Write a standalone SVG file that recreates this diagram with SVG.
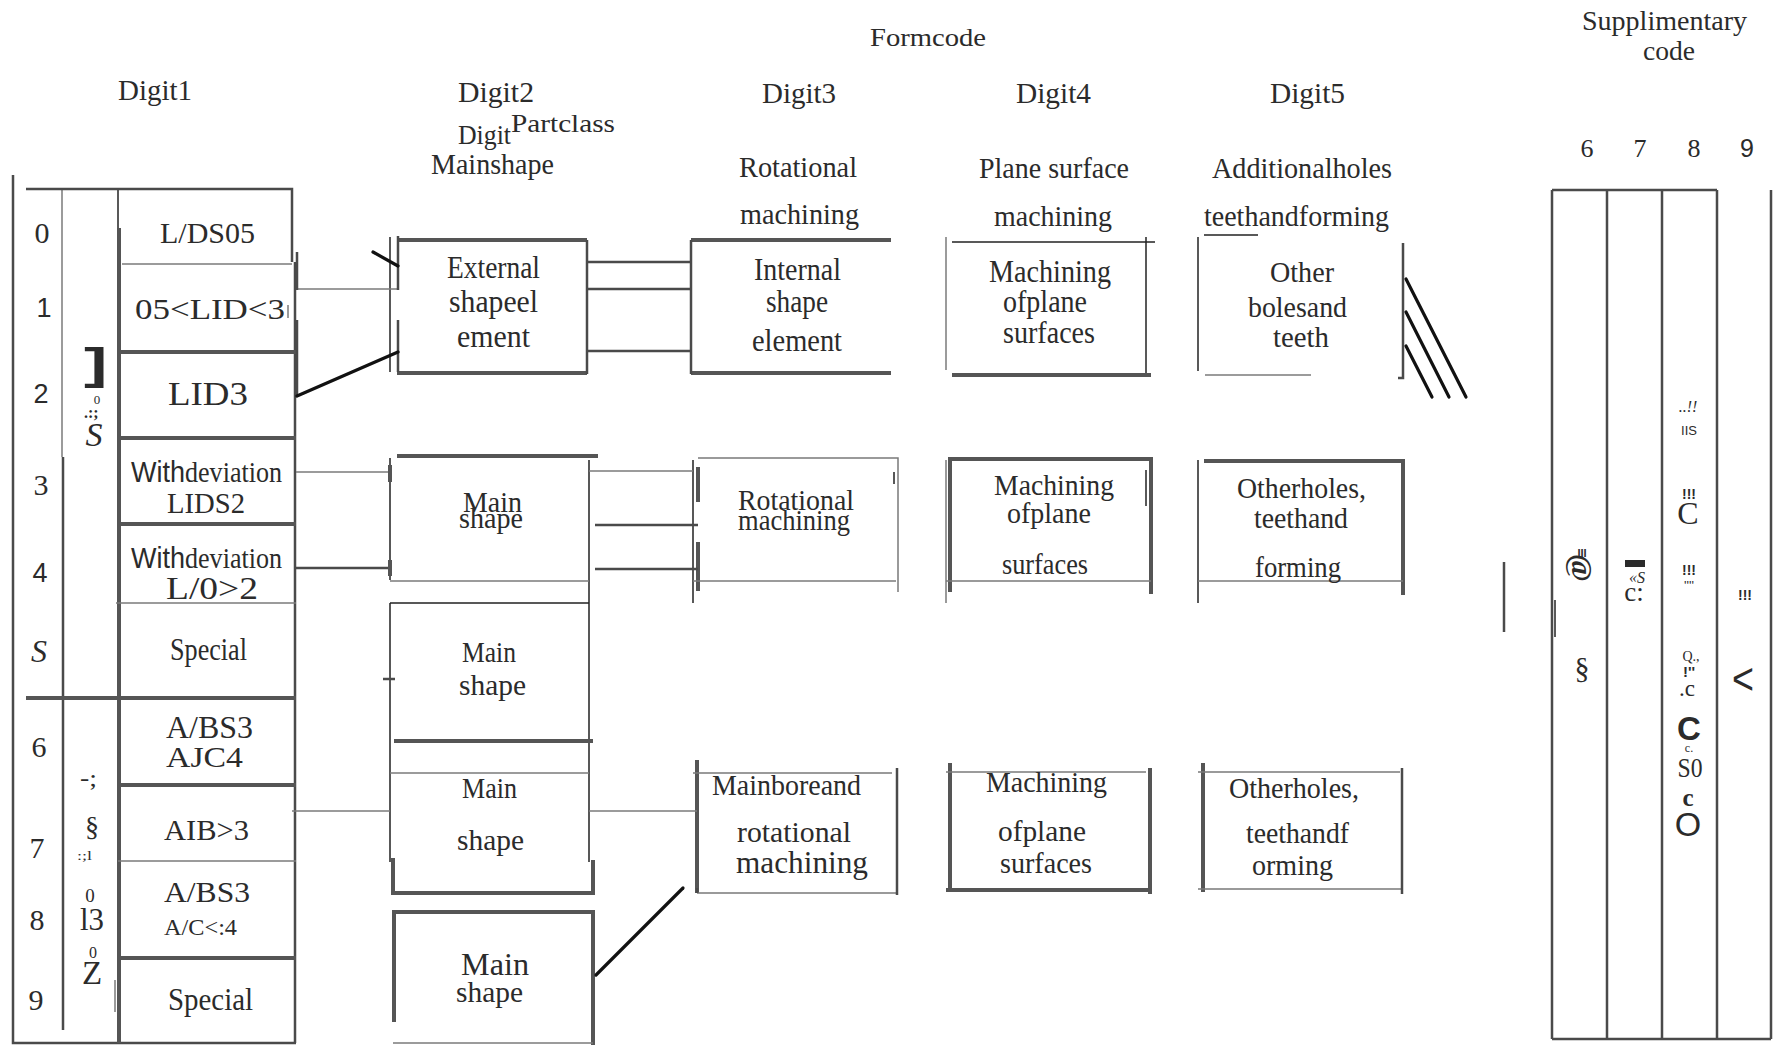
<svg xmlns="http://www.w3.org/2000/svg" width="1777" height="1045" viewBox="0 0 1777 1045">
<style>
text{font-family:"Liberation Serif","Times New Roman",serif;fill:#2b2b2b}
.sans{font-family:"Liberation Sans",Arial,sans-serif}
.c{text-anchor:middle}
.k{stroke:#222;stroke-width:1.5;fill:none}
.t{stroke:#7a7a7a;stroke-width:1.5;fill:none}
.g{stroke:#555;stroke-width:4;fill:none}
.m{stroke:#4a4a4a;stroke-width:2.5;fill:none}
.b{stroke:#111;stroke-width:3.2;fill:none;stroke-linecap:round}
</style>
<rect width="1777" height="1045" fill="#fff"/>

<!-- column headings -->
<g id="headings">
  <text x="870" y="46" font-size="26" textLength="116" lengthAdjust="spacingAndGlyphs">Formcode</text>
  <text x="1582" y="30" font-size="27" textLength="165" lengthAdjust="spacingAndGlyphs">Supplimentary</text>
  <text x="1643" y="60" font-size="27" textLength="52" lengthAdjust="spacingAndGlyphs">code</text>
  <text x="118" y="100" font-size="30" textLength="74" lengthAdjust="spacingAndGlyphs">Digit1</text>
  <text x="458" y="102" font-size="30" textLength="76" lengthAdjust="spacingAndGlyphs">Digit2</text>
  <text x="458" y="144" font-size="27" textLength="53" lengthAdjust="spacingAndGlyphs">Digit</text>
  <text x="511" y="132" font-size="26" textLength="104" lengthAdjust="spacingAndGlyphs">Partclass</text>
  <text x="431" y="174" font-size="29" textLength="123" lengthAdjust="spacingAndGlyphs">Mainshape</text>
  <text x="762" y="103" font-size="30" textLength="74" lengthAdjust="spacingAndGlyphs">Digit3</text>
  <text x="739" y="177" font-size="30" textLength="118" lengthAdjust="spacingAndGlyphs">Rotational</text>
  <text x="740" y="224" font-size="30" textLength="119" lengthAdjust="spacingAndGlyphs">machining</text>
  <text x="1016" y="103" font-size="30" textLength="75" lengthAdjust="spacingAndGlyphs">Digit4</text>
  <text x="1270" y="103" font-size="30" textLength="75" lengthAdjust="spacingAndGlyphs">Digit5</text>
  <text x="979" y="178" font-size="30" textLength="150" lengthAdjust="spacingAndGlyphs">Plane surface</text>
  <text x="994" y="226" font-size="30" textLength="118" lengthAdjust="spacingAndGlyphs">machining</text>
  <text x="1212" y="178" font-size="30" textLength="180" lengthAdjust="spacingAndGlyphs">Additionalholes</text>
  <text x="1204" y="226" font-size="30" textLength="185" lengthAdjust="spacingAndGlyphs">teethandforming</text>
  <path class="k" d="M1204,235H1258"/>
  <text class="c" x="1587" y="157" font-size="26">6</text>
  <text class="c" x="1640" y="157" font-size="26">7</text>
  <text class="c" x="1694" y="157" font-size="26">8</text>
  <text class="c sans" x="1747" y="157" font-size="25">9</text>
</g>

<!-- Digit 1 table -->
<g id="digit1-table">
  <path class="m" d="M13,175V1043H296"/>
  <path class="t" d="M62,189V457"/>
  <path class="m" stroke-width="3" d="M63,457V1030"/>
  <path class="k" d="M118,189V228"/>
  <path class="g" d="M119,228V1043"/>
  <path class="m" stroke-width="2" d="M26,189H292V262"/>
  <path class="m" stroke-width="3" d="M295,262V1043"/>
  <path class="t" d="M122,264H292"/>
  <path class="g" stroke-width="3.5" d="M120,352H296M120,438H296M120,524H296"/>
  <path class="t" d="M116,603H296"/>
  <path class="g" stroke-width="3.5" d="M26,698H296M120,785H296"/>
  <path class="t" d="M118,861H296"/>
  <path class="g" stroke-width="3.5" d="M120,958H296"/>
  <path class="t" stroke-width="3" d="M115,980V1012"/>
  <path class="t" stroke-width="2" d="M288,305V318"/>

  <text class="c" x="42" y="243" font-size="30">0</text>
  <text class="c sans" x="44" y="317" font-size="27">1</text>
  <text class="c sans" x="41" y="403" font-size="27">2</text>
  <text class="c" x="41" y="495" font-size="30">3</text>
  <text class="c sans" x="40" y="582" font-size="27">4</text>
  <text class="c" x="39" y="662" font-size="32" font-style="italic">S</text>
  <text class="c" x="39" y="757" font-size="30">6</text>
  <text class="c" x="37" y="858" font-size="30">7</text>
  <text class="c" x="37" y="930" font-size="30">8</text>
  <text class="c" x="36" y="1010" font-size="30">9</text>

  <!-- stray marks printed in the shape column -->
  <text class="sans" transform="translate(84,379) scale(1.6,1)" font-size="44" font-weight="bold" fill="#444">]</text>
  <text class="c" x="97" y="404" font-size="13">0</text>
  <text x="84" y="418" font-size="16" font-weight="bold">.:;</text>
  <text class="c" x="94" y="446" font-size="34" font-style="italic">S</text>
  <text x="80" y="786" font-size="24" textLength="17" lengthAdjust="spacingAndGlyphs">-;</text>
  <text class="c" x="92" y="836" font-size="28">§</text>
  <text x="77" y="860" font-size="13" textLength="15" lengthAdjust="spacingAndGlyphs">:;l</text>
  <text class="c" x="90" y="902" font-size="19">0</text>
  <text x="80" y="930" font-size="32" textLength="24" lengthAdjust="spacingAndGlyphs">l3</text>
  <text class="c" x="93" y="958" font-size="16">0</text>
  <text class="c" x="92" y="984" font-size="33">Z</text>

  <text x="160" y="243" font-size="30" textLength="95" lengthAdjust="spacingAndGlyphs">L/DS05</text>
  <text x="135" y="319" font-size="30" textLength="150" lengthAdjust="spacingAndGlyphs">05&lt;LID&lt;3</text>
  <text x="168" y="405" font-size="33" textLength="80" lengthAdjust="spacingAndGlyphs">LID3</text>
  <text y="482" font-size="29"><tspan class="sans" x="131" textLength="54" lengthAdjust="spacingAndGlyphs">With</tspan><tspan x="185" textLength="97" lengthAdjust="spacingAndGlyphs">deviation</tspan></text>
  <text x="167" y="513" font-size="30" textLength="78" lengthAdjust="spacingAndGlyphs">LIDS2</text>
  <text y="568" font-size="29"><tspan class="sans" x="131" textLength="54" lengthAdjust="spacingAndGlyphs">With</tspan><tspan x="185" textLength="97" lengthAdjust="spacingAndGlyphs">deviation</tspan></text>
  <text x="166" y="599" font-size="32" textLength="92" lengthAdjust="spacingAndGlyphs">L/0&gt;2</text>
  <text x="170" y="660" font-size="32" textLength="77" lengthAdjust="spacingAndGlyphs">Special</text>
  <text x="166" y="738" font-size="32" textLength="87" lengthAdjust="spacingAndGlyphs">A/BS3</text>
  <text x="166" y="767" font-size="30" textLength="77" lengthAdjust="spacingAndGlyphs">AJC4</text>
  <text x="164" y="840" font-size="30" textLength="85" lengthAdjust="spacingAndGlyphs">AIB&gt;3</text>
  <text x="164" y="902" font-size="30" textLength="86" lengthAdjust="spacingAndGlyphs">A/BS3</text>
  <text x="164" y="935" font-size="23" textLength="73" lengthAdjust="spacingAndGlyphs">A/C&lt;:4</text>
  <text x="168" y="1010" font-size="31" textLength="85" lengthAdjust="spacingAndGlyphs">Special</text>
</g>

<!-- Digit 2 boxes -->
<g id="d2-external">
  <path class="g" d="M397,240H587M397,373H587"/>
  <path class="k" d="M390,237V372"/>
  <path class="m" stroke-width="2" d="M587,240V374"/>
  <text x="447" y="278" font-size="32" textLength="93" lengthAdjust="spacingAndGlyphs">External</text>
  <text x="449" y="312" font-size="32" textLength="89" lengthAdjust="spacingAndGlyphs">shapeel</text>
  <text x="457" y="347" font-size="32" textLength="73" lengthAdjust="spacingAndGlyphs">ement</text>
</g>
<g id="d2-main-1">
  <path class="g" d="M397,456H598"/>
  <path class="k" d="M390,458V580M589,460V862"/>
  <path class="t" d="M390,581H589"/>
  <text x="463" y="512" font-size="29" textLength="59" lengthAdjust="spacingAndGlyphs">Main</text>
  <text x="459" y="528" font-size="29" textLength="64" lengthAdjust="spacingAndGlyphs">shape</text>
</g>
<g id="d2-main-2">
  <path class="k" d="M390,603H589M390,603V862"/>
  <path class="g" d="M394,741H593"/>
  <path class="m" stroke-width="4" d="M383,679H395"/>
  <text x="462" y="662" font-size="29" textLength="54" lengthAdjust="spacingAndGlyphs">Main</text>
  <text x="459" y="695" font-size="29" textLength="67" lengthAdjust="spacingAndGlyphs">shape</text>
</g>
<g id="d2-main-3">
  <path class="t" d="M390,773H589"/>
  <path class="g" d="M393,858V893H593V860"/>
  <text x="462" y="798" font-size="29" textLength="55" lengthAdjust="spacingAndGlyphs">Main</text>
  <text x="457" y="850" font-size="29" textLength="67" lengthAdjust="spacingAndGlyphs">shape</text>
</g>
<g id="d2-main-4">
  <path class="g" d="M394,1022V912H593V1045"/>
  <path class="t" d="M393,1043H593"/>
  <text x="461" y="975" font-size="32" textLength="68" lengthAdjust="spacingAndGlyphs">Main</text>
  <text x="456" y="1002" font-size="29" textLength="67" lengthAdjust="spacingAndGlyphs">shape</text>
</g>

<!-- Digit 3 boxes -->
<g id="d3-internal">
  <path class="g" d="M691,240H891M691,373H891"/>
  <path class="m" stroke-width="2" d="M691,240V374"/>
  <text x="754" y="280" font-size="32" textLength="87" lengthAdjust="spacingAndGlyphs">Internal</text>
  <text x="766" y="312" font-size="32" textLength="62" lengthAdjust="spacingAndGlyphs">shape</text>
  <text x="752" y="351" font-size="32" textLength="90" lengthAdjust="spacingAndGlyphs">element</text>
</g>
<g id="d3-rotational">
  <path class="t" stroke-width="2" d="M698,458H898V592"/>
  <path class="k" stroke-width="1.2" d="M693,460V603M894,472V484"/>
  <path class="g" d="M698,467V502M698,542V591"/>
  <path class="t" d="M693,581H896"/>
  <text x="738" y="510" font-size="30" textLength="116" lengthAdjust="spacingAndGlyphs">Rotational</text>
  <text x="738" y="530" font-size="30" textLength="112" lengthAdjust="spacingAndGlyphs">machining</text>
</g>
<g id="d3-mainbore">
  <path class="g" d="M697,760V893"/>
  <path class="t" d="M693,773H892M697,893H897"/>
  <path class="m" stroke-width="2" d="M897,768V895"/>
  <text x="712" y="795" font-size="30" textLength="149" lengthAdjust="spacingAndGlyphs">Mainboreand</text>
  <text x="737" y="842" font-size="30" textLength="114" lengthAdjust="spacingAndGlyphs">rotational</text>
  <text x="736" y="873" font-size="31" textLength="132" lengthAdjust="spacingAndGlyphs">machining</text>
</g>

<!-- Digit 4 boxes -->
<g id="d4-plane-1">
  <path class="t" d="M946,237V370"/>
  <path class="k" stroke-width="2" d="M952,242H1155"/>
  <path class="k" stroke="#555" d="M1146,237V373"/>
  <path class="g" d="M952,375H1151"/>
  <text x="989" y="282" font-size="32" textLength="122" lengthAdjust="spacingAndGlyphs">Machining</text>
  <text x="1003" y="312" font-size="32" textLength="84" lengthAdjust="spacingAndGlyphs">ofplane</text>
  <text x="1003" y="343" font-size="32" textLength="92" lengthAdjust="spacingAndGlyphs">surfaces</text>
</g>
<g id="d4-plane-2">
  <path class="g" d="M950,592V459H1151V594"/>
  <path class="t" d="M946,581H1151M946,460V603"/>
  <path class="k" d="M1146,470V506"/>
  <text x="994" y="495" font-size="30" textLength="120" lengthAdjust="spacingAndGlyphs">Machining</text>
  <text x="1007" y="523" font-size="30" textLength="84" lengthAdjust="spacingAndGlyphs">ofplane</text>
  <text x="1002" y="574" font-size="30" textLength="86" lengthAdjust="spacingAndGlyphs">surfaces</text>
</g>
<g id="d4-plane-3">
  <path class="g" d="M950,763V892M1150,768V894M946,890H1150"/>
  <path class="t" d="M946,772H1146"/>
  <text x="986" y="792" font-size="30" textLength="121" lengthAdjust="spacingAndGlyphs">Machining</text>
  <text x="998" y="841" font-size="30" textLength="88" lengthAdjust="spacingAndGlyphs">ofplane</text>
  <text x="1000" y="873" font-size="30" textLength="92" lengthAdjust="spacingAndGlyphs">surfaces</text>
</g>

<!-- Digit 5 boxes -->
<g id="d5-holes-1">
  <path class="k" d="M1198,237V371"/>
  <path class="t" d="M1205,375H1311"/>
  <path class="m" stroke-width="3.5" d="M1403,243V378H1398"/>
  <text x="1270" y="282" font-size="30" textLength="64" lengthAdjust="spacingAndGlyphs">Other</text>
  <text x="1248" y="317" font-size="30" textLength="99" lengthAdjust="spacingAndGlyphs">bolesand</text>
  <text x="1273" y="347" font-size="30" textLength="56" lengthAdjust="spacingAndGlyphs">teeth</text>
</g>
<g id="d5-holes-2">
  <path class="k" d="M1198,460V603"/>
  <path class="g" d="M1204,461H1403V595"/>
  <path class="t" d="M1198,581H1403"/>
  <text x="1237" y="498" font-size="30" textLength="129" lengthAdjust="spacingAndGlyphs">Otherholes,</text>
  <text x="1254" y="528" font-size="30" textLength="94" lengthAdjust="spacingAndGlyphs">teethand</text>
  <text x="1255" y="577" font-size="30" textLength="86" lengthAdjust="spacingAndGlyphs">forming</text>
</g>
<g id="d5-holes-3">
  <path class="g" d="M1203,763V892"/>
  <path class="t" d="M1198,772H1400M1198,889H1402"/>
  <path class="m" d="M1402,768V894"/>
  <text x="1229" y="798" font-size="30" textLength="130" lengthAdjust="spacingAndGlyphs">Otherholes,</text>
  <text x="1246" y="843" font-size="30" textLength="103" lengthAdjust="spacingAndGlyphs">teethandf</text>
  <text x="1252" y="875" font-size="30" textLength="81" lengthAdjust="spacingAndGlyphs">orming</text>
</g>

<!-- supplementary code columns -->
<g id="supplementary">
  <path class="m" stroke-width="3" d="M1552,190V1039M1607,190V1039M1662,190V1039M1717,190V1039M1771,190V1039M1552,190H1717M1552,1039H1771"/>
  <text class="c sans" x="1582" y="557" font-size="11" font-weight="bold">III</text>
  <text class="c" transform="translate(1582,568) rotate(90)" font-size="30" font-weight="bold" dy="10">@</text>
  <text class="c" x="1582" y="678" font-size="30">§</text>
  <rect x="1625" y="560" width="20" height="7" fill="#2b2b2b"/>
  <text class="c" x="1637" y="583" font-size="16" font-style="italic">«S</text>
  <text class="c" x="1634" y="601" font-size="27">c:</text>
  <text class="c" x="1688" y="412" font-size="16" font-style="italic">..!!</text>
  <text class="c sans" x="1689" y="435" font-size="13">IIS</text>
  <text class="c sans" x="1689" y="499" font-size="14" font-weight="bold">!!!</text>
  <text class="c" x="1688" y="524" font-size="32">C</text>
  <text class="c sans" x="1689" y="575" font-size="14" font-weight="bold">!!!</text>
  <text class="c sans" x="1689" y="590" font-size="13">''''</text>
  <text class="c" x="1691" y="661" font-size="14">Q.,</text>
  <text class="c sans" x="1689" y="677" font-size="15" font-weight="bold">!''</text>
  <text class="c" x="1687" y="696" font-size="23">.c</text>
  <text class="c sans" x="1689" y="740" font-size="33" font-weight="bold">C</text>
  <text class="c" x="1689" y="752" font-size="12">c.</text>
  <text class="c" x="1690" y="777" font-size="27" textLength="25" lengthAdjust="spacingAndGlyphs">S0</text>
  <text class="c" x="1688" y="806" font-size="25" font-weight="bold">c</text>
  <text class="c sans" x="1688" y="836" font-size="34">O</text>
  <text class="c sans" x="1745" y="600" font-size="14" font-weight="bold">!!!</text>
  <text class="c sans" x="1743" y="694" font-size="44" textLength="22" lengthAdjust="spacingAndGlyphs">&lt;</text>
</g>

<!-- connectors -->
<g id="connectors">
  <!-- digit 1 to digit 2 -->
  <path class="t" d="M296,289H398"/>
  <path class="m" stroke="#333" d="M297,252V290M297,320V395M398,236V290M398,320V372"/>
  <path class="b" d="M297,396L398,352M373,252L398,266"/>
  <path class="t" d="M296,472H390"/>
  <path class="g" d="M390,465V482"/>
  <path class="m" stroke-width="5" d="M296,568H392"/>
  <path class="g" d="M390,560V576"/>
  <path class="t" stroke="#555" d="M292,811H390"/>
  <!-- digit 2 to digit 3 -->
  <path class="m" stroke-width="4" d="M587,262H691M587,351H691"/>
  <path class="m" stroke-width="2" d="M587,289H691"/>
  <path class="t" stroke="#666" d="M589,471H693"/>
  <path class="m" stroke-width="5" d="M595,525H698"/>
  <path class="m" stroke-width="4" d="M595,569H698"/>
  <path class="t" stroke="#555" d="M589,811H697"/>
  <path class="b" stroke-width="3.5" d="M596,975L683,888"/>
  <path class="m" stroke-width="3" d="M697,888V893"/>
  <!-- digit 5 to supplementary code -->
  <path class="b" d="M1406,279L1466,397M1406,312L1449,397M1406,346L1432,397"/>
  <path class="m" stroke-width="5" d="M1504,562V632"/>
  <path class="k" stroke-width="2" d="M1555,600V637"/>
</g>
</svg>
